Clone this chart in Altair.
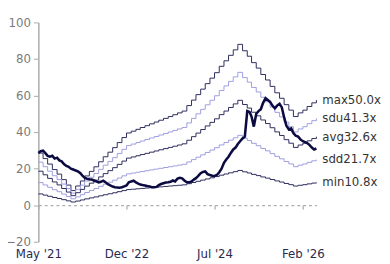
import altair as alt
import pandas as pd

# ---- data -------------------------------------------------------------
# monthly EPS used for the PE bands (May 2021 .. May 2026)
eps = [0.57, 0.51, 0.45, 0.39, 0.34, 0.28, 0.22, 0.16,
       0.21, 0.265, 0.32, 0.37, 0.42, 0.475, 0.53, 0.58, 0.63, 0.685, 0.74, 0.79,
       0.81, 0.83, 0.85, 0.87, 0.89, 0.91, 0.93, 0.95, 0.97, 0.99, 1.01, 1.03,
       1.09, 1.15, 1.21, 1.27, 1.33, 1.39, 1.45, 1.52, 1.58, 1.64, 1.70, 1.76,
       1.69, 1.63, 1.56, 1.50, 1.43, 1.37, 1.30, 1.23, 1.17, 1.10, 1.04, 0.97,
       1.01, 1.04, 1.08, 1.12, 1.15]

band_names = ["max", "sdu", "avg", "sdd", "min"]
band_mult = [50.0, 41.3, 32.6, 21.7, 10.8]
band_colors = ["#2b2b5c", "#9e9ee0", "#2b2b5c", "#9e9ee0", "#2b2b5c"]

# semi-monthly price (1st and 16th of each month)
price = [28.6, 29.5, 29.8, 28.5, 27.0, 26.5, 27.0, 25.5, 26.0, 24.5,
         24.0, 22.5, 21.5, 21.0, 20.0, 19.5, 19.0, 18.5, 17.5, 16.0,
         15.0, 14.5, 14.2, 14.0, 13.5, 13.0, 12.5, 12.8, 13.4, 12.5,
         11.5, 10.8, 10.2, 9.8, 9.7, 9.5, 9.8, 10.3, 10.8, 12.5,
         13.0, 13.4, 12.5, 11.8, 11.3, 11.0, 10.8, 10.5, 10.3, 9.8,
         9.8, 10.0, 11.0, 11.6, 12.0, 12.4, 12.5, 12.8, 13.5, 13.0,
         14.5, 15.0, 14.7, 13.5, 12.5, 12.5, 13.0, 14.0, 14.8, 16.0,
         17.5, 18.2, 18.5, 17.0, 16.5, 16.1, 16.0, 16.5, 18.0, 20.0,
         23.2, 25.0, 26.5, 28.6, 30.5, 31.5, 33.5, 35.0, 36.5, 37.5,
         51.5, 51.0, 48.5, 43.0, 50.0, 51.5, 52.5, 56.0, 58.5, 57.5,
         56.5, 54.5, 53.0, 54.5, 55.5, 53.5, 48.0, 43.5, 41.5, 42.0,
         39.5, 38.0, 37.5, 36.0, 35.0, 34.5, 34.0, 33.0, 31.5, 30.5,
         31.0]

tick_dates = ["2021-05-01", "2022-12-01", "2024-07-01", "2026-02-01"]
y_ticks = [-20, 0, 20, 40, 60, 80, 100]

# ---- tables ----------------------------------------------------------
months = pd.date_range("2021-05-01", "2026-05-01", freq="MS")
band_rows = []
for name, mult in zip(band_names, band_mult):
    for d, e in zip(months, eps):
        band_rows.append({"date": d, "band": name, "value": e * mult})
bands = pd.DataFrame(band_rows)

pdates = []
for d in months:
    pdates.append(d)
    if d < months[-1]:
        pdates.append(d + pd.Timedelta(days=15))
n = min(len(pdates), len(price))
prices = pd.DataFrame({"date": pdates[:n], "value": price[:n]})

labels = pd.DataFrame({
    "date": [months[-1]] * len(band_names),
    "value": [eps[-1] * m for m in band_mult],
    "label": [f"{nm}{m:.1f}x" for nm, m in zip(band_names, band_mult)],
})

# ---- chart -----------------------------------------------------------
xscale = alt.Scale(domain=[alt.DateTime(year=2021, month=5, date=1),
                           alt.DateTime(year=2026, month=5, date=1)], nice=False)
yscale = alt.Scale(domain=[-20, 100], nice=False, zero=False)

xaxis = alt.Axis(
    values=[alt.DateTime(year=int(t[:4]), month=int(t[5:7]), date=1) for t in tick_dates],
    format="%b '%y", title=None, grid=False,
    offset=-37.3, domainDash=[3, 3], domainColor="#999999", domainWidth=1,
    tickColor="#999999", tickSize=4, labelPadding=40,
    labelColor="#2a2a50", labelFontSize=12, labelFont="DejaVu Sans",
    labelFlush=False, labelOverlap=False,
)
yaxis = alt.Axis(
    values=y_ticks, title=None, grid=False,
    domainColor="#aaaaaa", domainWidth=1.5, tickColor="#aaaaaa", tickSize=5,
    labelColor="#7a7a7a", labelFontSize=12, labelFont="DejaVu Sans", labelPadding=3,
    labelOverlap=False, labelFlush=False, labelBound=False,
)

X = alt.X("date:T", scale=xscale, axis=xaxis)
Y = alt.Y("value:Q", scale=yscale, axis=yaxis)

band_chart = alt.Chart(bands).mark_line(interpolate="step-after", strokeWidth=1).encode(
    x=X, y=Y,
    color=alt.Color("band:N", scale=alt.Scale(domain=band_names, range=band_colors), legend=None),
    detail="band:N",
)

price_chart = alt.Chart(prices).mark_line(color="#0b0b42", strokeWidth=2.6).encode(
    x=X, y=Y,
)

label_chart = alt.Chart(labels).mark_text(
    align="left", baseline="middle", dx=6, fontSize=12, font="DejaVu Sans", color="#333333"
).encode(
    x=X, y=Y,
    text="label:N",
)

chart = alt.layer(band_chart, price_chart, label_chart).properties(
    width=284, height=224,
    autosize=alt.AutoSizeParams(type="none"),
    padding={"left": 31, "top": 12, "right": 67, "bottom": 20},
).configure_view(stroke=None)

chart.save("out.html", embed_options={"renderer": "svg", "actions": False})
